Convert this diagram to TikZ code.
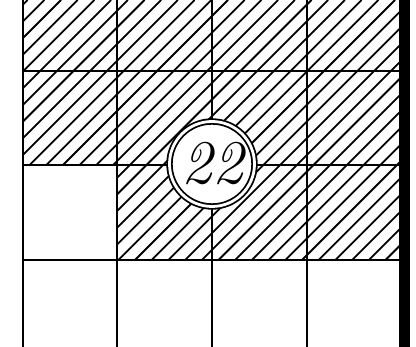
\documentclass[tikz,border=0pt]{standalone}
\begin{document}
\begin{tikzpicture}[x=1pt,y=-1pt,
  gridline/.style={line width=2pt},
  hatchline/.style={line width=1.8pt},
  badge/.style={circle, draw, double, line width=1.8pt, double distance=2.8pt, fill=white, minimum size=85pt, inner sep=0pt, font=\fontsize{62}{62}\selectfont\itshape}]
\useasboundingbox (0,0) rectangle (416,347);
\begin{scope}
\clip (23,0) -- (404,0) -- (404,260) -- (117,260) -- (117,165) -- (23,165) -- cycle;
\foreach \k in {-25,...,17} { \draw[hatchline] ({411.7+16.7*\k},0) -- ++(-420,420); }
\end{scope}
\foreach \x in {23,117,212,307} { \draw[gridline] (\x,0) -- (\x,347); }
\foreach \y in {71,165,260} { \draw[gridline] (23,\y) -- (404,\y); }
\fill (399,0) rectangle (410,347);
\node[badge] (c) at (212,164) {22};
\end{tikzpicture}
\end{document}
